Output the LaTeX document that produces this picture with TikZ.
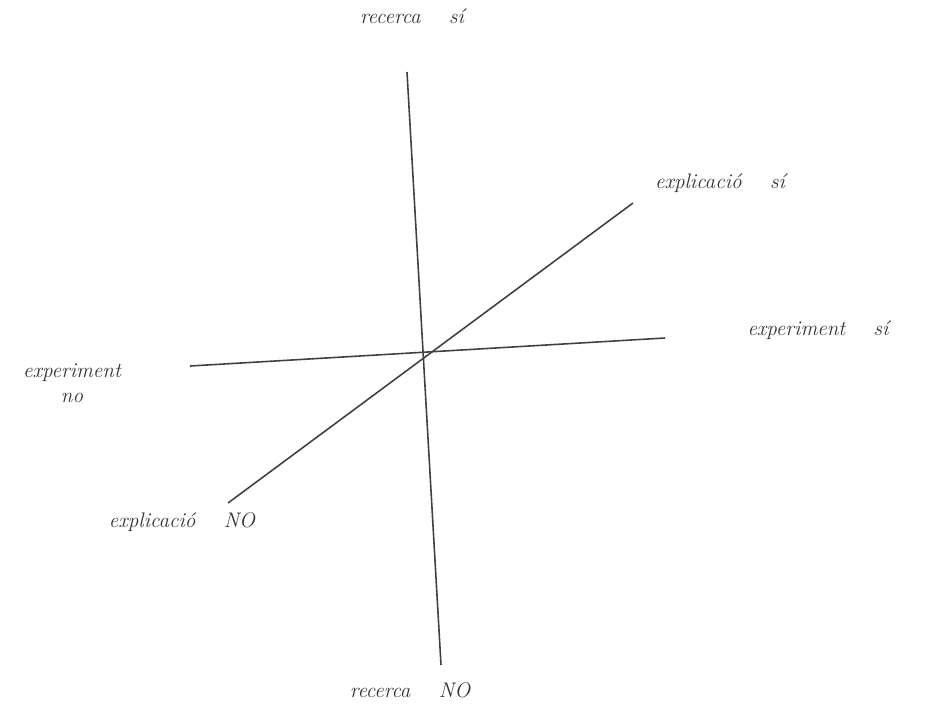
\documentclass[tikz,border=0pt]{standalone}
\usepackage{tikz}
\usetikzlibrary{positioning}

\begin{document}
\begin{tikzpicture}[x=0.02cm, y=-0.02cm,
  axis/.style={draw=black!75, line width=0.9pt},
  lbl/.style={font=\large\itshape, text=black!80, align=center, inner sep=1pt}]

  \useasboundingbox (0,0) rectangle (927,718);

  % axis ends
  \coordinate (top)   at (407,72);
  \coordinate (bot)   at (441,665);
  \coordinate (left)  at (190,366);
  \coordinate (right) at (665,338);
  \coordinate (lo)    at (228,503);
  \coordinate (hi)    at (633,203);

  \draw[axis] (top)  -- (bot);
  \draw[axis] (left) -- (right);
  \draw[axis] (lo)   -- (hi);

  \node[lbl] (recsi)  at (412,16)  {recerca \quad sí};
  \node[lbl] (recno)  at (410,690) {recerca \quad NO};
  \node[lbl] (expsi)  at (818,330) {experiment \quad sí};
  \node[lbl] (expno)  at (72,383)  {experiment\\no};
  \node[lbl] (explsi) at (720,183) {explicació \quad sí};
  \node[lbl] (explno) at (182,522) {explicació \quad NO};
\end{tikzpicture}
\end{document}
